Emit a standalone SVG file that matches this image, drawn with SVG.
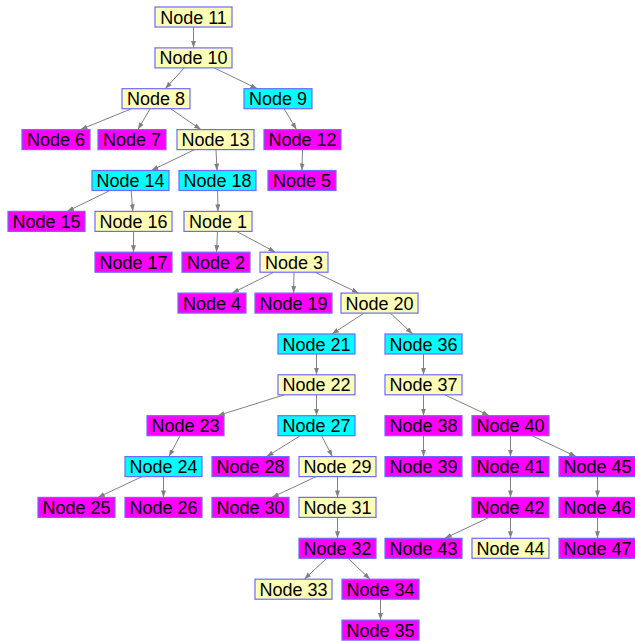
<svg xmlns="http://www.w3.org/2000/svg" width="635" height="641" viewBox="0 0 635 641">
<style>
.n rect{stroke:#6b6bff;stroke-width:1.2}
.y rect{fill:#ffffb8}
.c rect{fill:#00ffff}
.m rect{fill:#ff00ff}
.n text{font-family:"Liberation Sans",Arial,sans-serif;font-size:18px;fill:#000;text-anchor:middle}
.e line{stroke:#808080;stroke-width:1;fill:none;marker-end:url(#a)}
</style>
<defs>
<marker id="a" markerUnits="userSpaceOnUse" markerWidth="8" markerHeight="6" refX="7" refY="2.5" orient="auto">
<path d="M0,0 L7,2.5 L0,5 z" fill="#808080"/>
</marker>
</defs>
<rect width="635" height="641" fill="#fff"/>
<g id="edges" class="e">
<line x1="193.5" y1="27" x2="193.5" y2="47.9"/>
<line x1="184.3" y1="67.9" x2="165.2" y2="88.7"/>
<line x1="214.2" y1="67.9" x2="257.3" y2="88.7"/>
<line x1="131.5" y1="108.7" x2="80.5" y2="129.6"/>
<line x1="150.1" y1="108.7" x2="137.9" y2="129.6"/>
<line x1="170.6" y1="108.7" x2="200.9" y2="129.6"/>
<line x1="284" y1="108.7" x2="296.5" y2="129.6"/>
<line x1="302.5" y1="149.6" x2="302" y2="170.5"/>
<line x1="194.7" y1="149.6" x2="151.3" y2="170.5"/>
<line x1="216" y1="149.6" x2="217" y2="170.5"/>
<line x1="109.9" y1="190.5" x2="67.1" y2="211.4"/>
<line x1="131.2" y1="190.5" x2="132.8" y2="211.4"/>
<line x1="217.6" y1="190.5" x2="217.9" y2="211.4"/>
<line x1="133.5" y1="231.4" x2="133.5" y2="252.2"/>
<line x1="217.5" y1="231.4" x2="216.5" y2="252.2"/>
<line x1="236.6" y1="231.4" x2="275.4" y2="252.2"/>
<line x1="273.9" y1="272.2" x2="232.1" y2="293.1"/>
<line x1="294" y1="272.2" x2="293.6" y2="293.1"/>
<line x1="314.9" y1="272.2" x2="358.6" y2="293.1"/>
<line x1="364.1" y1="313.1" x2="331.9" y2="334"/>
<line x1="390.3" y1="313.1" x2="412.7" y2="334"/>
<line x1="316.5" y1="354" x2="316.5" y2="374.8"/>
<line x1="423.5" y1="354" x2="423.5" y2="374.8"/>
<line x1="284.4" y1="394.8" x2="217.6" y2="415.7"/>
<line x1="316.5" y1="394.8" x2="316.5" y2="415.7"/>
<line x1="423.5" y1="394.8" x2="423.5" y2="415.7"/>
<line x1="444.8" y1="394.8" x2="489.2" y2="415.7"/>
<line x1="180.1" y1="435.7" x2="168.9" y2="456.6"/>
<line x1="300.3" y1="435.7" x2="266.7" y2="456.6"/>
<line x1="321.6" y1="435.7" x2="332.4" y2="456.6"/>
<line x1="423.5" y1="435.7" x2="423.5" y2="456.6"/>
<line x1="510.5" y1="435.7" x2="510.5" y2="456.6"/>
<line x1="531.8" y1="435.7" x2="576.2" y2="456.6"/>
<line x1="142.2" y1="476.6" x2="97.8" y2="497.4"/>
<line x1="163.5" y1="476.6" x2="163.5" y2="497.4"/>
<line x1="316.2" y1="476.6" x2="271.8" y2="497.4"/>
<line x1="337.5" y1="476.6" x2="337.5" y2="497.4"/>
<line x1="510.5" y1="476.6" x2="510.5" y2="497.4"/>
<line x1="597.5" y1="476.6" x2="597.5" y2="497.4"/>
<line x1="337.5" y1="517.4" x2="337.5" y2="538.3"/>
<line x1="489.2" y1="517.4" x2="444.8" y2="538.3"/>
<line x1="510.5" y1="517.4" x2="510.5" y2="538.3"/>
<line x1="597.5" y1="517.4" x2="597.5" y2="538.3"/>
<line x1="326.7" y1="558.3" x2="304.3" y2="579.2"/>
<line x1="348" y1="558.3" x2="370" y2="579.2"/>
<line x1="380.5" y1="599.2" x2="380.5" y2="620.1"/>
</g>
<g id="n11" class="n y"><rect x="155" y="7" width="77" height="20"/><text x="193.5" y="23.5">Node 11</text></g>
<g id="n10" class="n y"><rect x="155" y="47.9" width="77" height="20"/><text x="193.5" y="64.4">Node 10</text></g>
<g id="n8" class="n y"><rect x="122" y="88.7" width="68" height="20"/><text x="156" y="105.2">Node 8</text></g>
<g id="n9" class="n c"><rect x="244" y="88.7" width="68" height="20"/><text x="278" y="105.2">Node 9</text></g>
<g id="n6" class="n m"><rect x="22" y="129.6" width="68" height="20"/><text x="56" y="146.1">Node 6</text></g>
<g id="n7" class="n m"><rect x="98" y="129.6" width="68" height="20"/><text x="132" y="146.1">Node 7</text></g>
<g id="n13" class="n y"><rect x="177" y="129.6" width="77" height="20"/><text x="215.5" y="146.1">Node 13</text></g>
<g id="n12" class="n m"><rect x="264" y="129.6" width="77" height="20"/><text x="302.5" y="146.1">Node 12</text></g>
<g id="n14" class="n c"><rect x="92" y="170.5" width="77" height="20"/><text x="130.5" y="187">Node 14</text></g>
<g id="n18" class="n c"><rect x="179" y="170.5" width="77" height="20"/><text x="217.5" y="187">Node 18</text></g>
<g id="n5" class="n m"><rect x="268" y="170.5" width="68" height="20"/><text x="302" y="187">Node 5</text></g>
<g id="n15" class="n m"><rect x="8" y="211.4" width="77" height="20"/><text x="46.5" y="227.9">Node 15</text></g>
<g id="n16" class="n y"><rect x="95" y="211.4" width="77" height="20"/><text x="133.5" y="227.9">Node 16</text></g>
<g id="n1" class="n y"><rect x="184" y="211.4" width="68" height="20"/><text x="218" y="227.9">Node 1</text></g>
<g id="n17" class="n m"><rect x="95" y="252.2" width="77" height="20"/><text x="133.5" y="268.7">Node 17</text></g>
<g id="n2" class="n m"><rect x="182" y="252.2" width="68" height="20"/><text x="216" y="268.7">Node 2</text></g>
<g id="n3" class="n y"><rect x="260" y="252.2" width="68" height="20"/><text x="294" y="268.7">Node 3</text></g>
<g id="n4" class="n m"><rect x="178" y="293.1" width="68" height="20"/><text x="212" y="309.6">Node 4</text></g>
<g id="n19" class="n m"><rect x="255" y="293.1" width="77" height="20"/><text x="293.5" y="309.6">Node 19</text></g>
<g id="n20" class="n y"><rect x="341" y="293.1" width="77" height="20"/><text x="379.5" y="309.6">Node 20</text></g>
<g id="n21" class="n c"><rect x="278" y="334" width="77" height="20"/><text x="316.5" y="350.5">Node 21</text></g>
<g id="n36" class="n c"><rect x="385" y="334" width="77" height="20"/><text x="423.5" y="350.5">Node 36</text></g>
<g id="n22" class="n y"><rect x="278" y="374.8" width="77" height="20"/><text x="316.5" y="391.3">Node 22</text></g>
<g id="n37" class="n y"><rect x="385" y="374.8" width="77" height="20"/><text x="423.5" y="391.3">Node 37</text></g>
<g id="n23" class="n m"><rect x="147" y="415.7" width="77" height="20"/><text x="185.5" y="432.2">Node 23</text></g>
<g id="n27" class="n c"><rect x="278" y="415.7" width="77" height="20"/><text x="316.5" y="432.2">Node 27</text></g>
<g id="n38" class="n m"><rect x="385" y="415.7" width="77" height="20"/><text x="423.5" y="432.2">Node 38</text></g>
<g id="n40" class="n m"><rect x="472" y="415.7" width="77" height="20"/><text x="510.5" y="432.2">Node 40</text></g>
<g id="n24" class="n c"><rect x="125" y="456.6" width="77" height="20"/><text x="163.5" y="473.1">Node 24</text></g>
<g id="n28" class="n m"><rect x="212" y="456.6" width="77" height="20"/><text x="250.5" y="473.1">Node 28</text></g>
<g id="n29" class="n y"><rect x="299" y="456.6" width="77" height="20"/><text x="337.5" y="473.1">Node 29</text></g>
<g id="n39" class="n m"><rect x="385" y="456.6" width="77" height="20"/><text x="423.5" y="473.1">Node 39</text></g>
<g id="n41" class="n m"><rect x="472" y="456.6" width="77" height="20"/><text x="510.5" y="473.1">Node 41</text></g>
<g id="n45" class="n m"><rect x="559" y="456.6" width="77" height="20"/><text x="597.5" y="473.1">Node 45</text></g>
<g id="n25" class="n m"><rect x="38" y="497.4" width="77" height="20"/><text x="76.5" y="513.9">Node 25</text></g>
<g id="n26" class="n m"><rect x="125" y="497.4" width="77" height="20"/><text x="163.5" y="513.9">Node 26</text></g>
<g id="n30" class="n m"><rect x="212" y="497.4" width="77" height="20"/><text x="250.5" y="513.9">Node 30</text></g>
<g id="n31" class="n y"><rect x="299" y="497.4" width="77" height="20"/><text x="337.5" y="513.9">Node 31</text></g>
<g id="n42" class="n m"><rect x="472" y="497.4" width="77" height="20"/><text x="510.5" y="513.9">Node 42</text></g>
<g id="n46" class="n m"><rect x="559" y="497.4" width="77" height="20"/><text x="597.5" y="513.9">Node 46</text></g>
<g id="n32" class="n m"><rect x="299" y="538.3" width="77" height="20"/><text x="337.5" y="554.8">Node 32</text></g>
<g id="n43" class="n m"><rect x="385" y="538.3" width="77" height="20"/><text x="423.5" y="554.8">Node 43</text></g>
<g id="n44" class="n y"><rect x="472" y="538.3" width="77" height="20"/><text x="510.5" y="554.8">Node 44</text></g>
<g id="n47" class="n m"><rect x="559" y="538.3" width="77" height="20"/><text x="597.5" y="554.8">Node 47</text></g>
<g id="n33" class="n y"><rect x="255" y="579.2" width="77" height="20"/><text x="293.5" y="595.7">Node 33</text></g>
<g id="n34" class="n m"><rect x="342" y="579.2" width="77" height="20"/><text x="380.5" y="595.7">Node 34</text></g>
<g id="n35" class="n m"><rect x="342" y="620.1" width="77" height="20"/><text x="380.5" y="636.6">Node 35</text></g>
</svg>
